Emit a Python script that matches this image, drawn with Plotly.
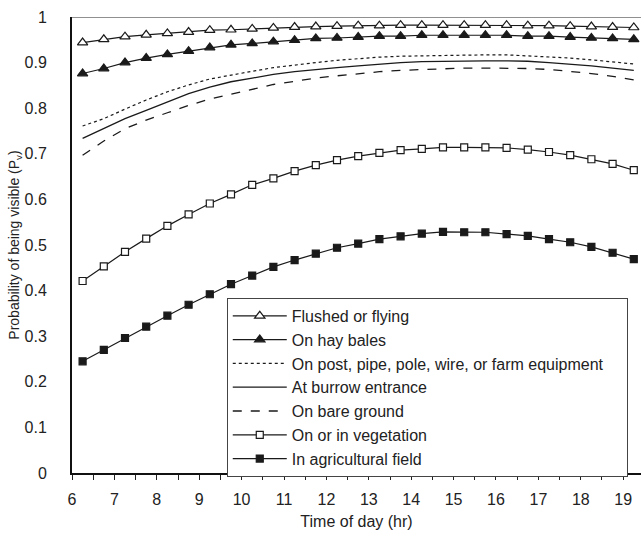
import plotly.graph_objects as go

hours = [6.25, 6.75, 7.25, 7.75, 8.25, 8.75, 9.25, 9.75, 10.25, 10.75, 11.25, 11.75, 12.25,
         12.75, 13.25, 13.75, 14.25, 14.75, 15.25, 15.75, 16.25, 16.75, 17.25, 17.75, 18.25,
         18.75, 19.25]

flushed = [0.944, 0.951, 0.957, 0.961, 0.964, 0.967, 0.971, 0.972, 0.974, 0.976, 0.978, 0.979,
           0.980, 0.981, 0.981, 0.982, 0.982, 0.982, 0.982, 0.982, 0.982, 0.981, 0.981, 0.980,
           0.979, 0.978, 0.977]
hay = [0.876, 0.887, 0.900, 0.910, 0.918, 0.925, 0.933, 0.939, 0.942, 0.946, 0.949, 0.953,
       0.954, 0.956, 0.958, 0.958, 0.960, 0.960, 0.960, 0.960, 0.960, 0.958, 0.958, 0.956,
       0.954, 0.953, 0.951]
post = [0.761, 0.777, 0.798, 0.818, 0.836, 0.851, 0.864, 0.873, 0.881, 0.889, 0.895, 0.900,
        0.905, 0.909, 0.912, 0.914, 0.915, 0.916, 0.917, 0.917, 0.917, 0.915, 0.913, 0.910,
        0.906, 0.902, 0.897]
burrow = [0.734, 0.756, 0.777, 0.795, 0.813, 0.832, 0.846, 0.858, 0.866, 0.874, 0.880, 0.885,
          0.889, 0.893, 0.897, 0.900, 0.902, 0.903, 0.904, 0.904, 0.904, 0.903, 0.900, 0.897,
          0.893, 0.888, 0.883]
bare = [0.697, 0.728, 0.755, 0.774, 0.790, 0.806, 0.820, 0.831, 0.842, 0.852, 0.859, 0.866,
        0.871, 0.876, 0.880, 0.883, 0.885, 0.887, 0.888, 0.888, 0.888, 0.887, 0.885, 0.881,
        0.876, 0.870, 0.862]
vegetation = [0.421, 0.453, 0.485, 0.514, 0.542, 0.567, 0.591, 0.611, 0.632, 0.646, 0.662,
              0.675, 0.686, 0.695, 0.702, 0.708, 0.711, 0.714, 0.714, 0.714, 0.713, 0.709,
              0.704, 0.697, 0.688, 0.678, 0.664]
agricultural = [0.245, 0.270, 0.296, 0.321, 0.345, 0.369, 0.392, 0.414, 0.433, 0.452, 0.467,
                0.481, 0.494, 0.503, 0.513, 0.519, 0.525, 0.529, 0.528, 0.528, 0.524, 0.520,
                0.513, 0.506, 0.496, 0.483, 0.469]

x_ticks = list(range(6, 20))
y_ticks = [0, 0.1, 0.2, 0.3, 0.4, 0.5, 0.6, 0.7, 0.8, 0.9, 1]
y_tick_text = ["0", "0.1", "0.2", "0.3", "0.4", "0.5", "0.6", "0.7", "0.8", "0.9", "1"]

LC = "#1a1a1a"
FONT = "Liberation Sans, Arial, sans-serif"
NB = "\u00a0"

series = [
    ("Flushed or flying", flushed, "solid", "triangle-up", "white"),
    ("On hay bales", hay, "solid", "triangle-up", LC),
    ("On post, pipe, pole, wire, or farm equipment", post, "dot", None, None),
    ("At burrow entrance", burrow, "solid", None, None),
    ("On bare ground", bare, "dash", None, None),
    ("On or in vegetation", vegetation, "solid", "square", "white"),
    ("In agricultural field", agricultural, "solid", "square", LC),
]

fig = go.Figure()
for name, vals, dash, sym, fill in series:
    label = name + NB * 4 if name.startswith("On post") else name
    if sym:
        fig.add_trace(go.Scatter(
            x=hours, y=vals, name=label, mode="lines+markers",
            line=dict(color=LC, width=1.2, dash=dash),
            marker=dict(symbol=sym, size=9 if sym == "triangle-up" else 7, color=fill,
                        line=dict(color=LC, width=1.2)),
        ))
    else:
        fig.add_trace(go.Scatter(
            x=hours, y=vals, name=label, mode="lines",
            line=dict(color=LC, width=1.3 if dash != "dot" else 1.2, dash=dash),
        ))

fig.update_layout(
    width=641, height=533,
    margin=dict(l=72, r=0, t=17, b=60),
    paper_bgcolor="white", plot_bgcolor="white",
    font=dict(family=FONT, size=14, color="#222"),
    showlegend=True,
    legend=dict(
        x=0.272, y=0.384, xanchor="left", yanchor="top",
        bordercolor="#444", borderwidth=1, bgcolor="white",
        font=dict(family=FONT, size=16, color="#222"),
        tracegroupgap=0, itemwidth=54,
    ),
    xaxis=dict(
        range=[6, 19.42], tickmode="array", tickvals=x_ticks,
        ticks="outside", ticklen=5, tickwidth=1, tickcolor="#222",
        minor=dict(dtick=0.5, ticks="outside", ticklen=5, tickwidth=1, tickcolor="#222"),
        ticklabelstandoff=6,
        showline=True, linewidth=2, linecolor="#111",
        showgrid=False, zeroline=False,
        title=dict(text="Time of day (hr)", font=dict(size=16), standoff=9),
        tickfont=dict(size=16),
    ),
    yaxis=dict(
        range=[0, 1], tickmode="array", tickvals=y_ticks, ticktext=y_tick_text,
        ticks="", ticklabelstandoff=20, showline=True, linewidth=2, linecolor="#111",
        showgrid=False, zeroline=False,
        title=dict(text="Probability of being visible (P<sub>v</sub>)", font=dict(size=14), standoff=2),
        tickfont=dict(size=16),
    ),
    shapes=[dict(type="line", xref="paper", yref="y", x0=0, x1=1, y0=1, y1=1,
                 line=dict(color="#222", width=1))],
)

fig.write_html("out.html", post_script="document.body.style.margin='0';",
               config={"displayModeBar": False})
